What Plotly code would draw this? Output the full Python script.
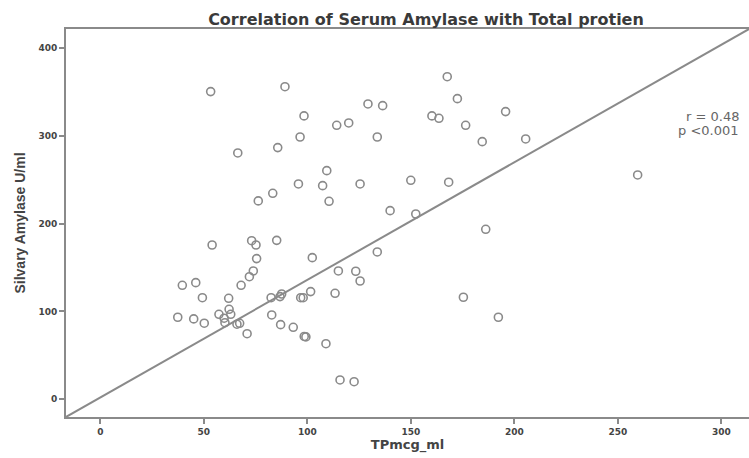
import plotly.graph_objects as go

# ---- data ----
tp_mcg_ml = [
    53.3, 89.2, 66.4, 85.7, 83.3, 76.3, 54.0, 73.1, 75.2, 85.2,
    75.5, 167.6, 172.5, 129.3, 136.4, 98.4, 160.2, 163.6, 195.8, 114.2,
    120.0, 176.5, 96.5, 133.8, 184.5, 205.5, 109.4, 95.7, 107.4, 125.5,
    150.0, 168.3, 110.5, 140.0, 152.4, 186.2, 102.4, 133.8, 73.9, 72.0,
    68.0, 46.1, 39.6, 49.3, 62.0, 62.2, 57.3, 63.0, 59.8, 60.2,
    66.0, 67.3, 37.4, 45.1, 50.2, 70.9, 82.5, 86.8, 87.6, 82.8,
    87.1, 93.2, 115.0, 123.4, 125.5, 96.8, 98.0, 101.6, 113.4, 175.4,
    192.3, 98.5, 99.3, 109.0, 115.8, 122.6, 259.6,
]
salivary_amylase = [
    350.4, 356.0, 280.5, 286.6, 234.6, 225.9, 175.7, 180.6, 175.7, 181.0,
    160.2, 367.4, 342.4, 336.3, 334.4, 322.7, 322.7, 320.0, 327.6, 312.0,
    314.7, 312.0, 298.7, 298.7, 293.4, 296.5, 260.4, 245.2, 243.3, 245.2,
    249.4, 247.2, 225.5, 214.8, 211.0, 193.6, 161.3, 167.8, 146.1, 139.6,
    129.8, 132.8, 129.8, 115.7, 115.0, 102.5, 96.8, 96.8, 92.3, 87.2,
    85.5, 86.5, 93.4, 91.5, 86.6, 74.7, 115.7, 116.9, 119.9, 96.0,
    85.0, 82.0, 146.1, 145.8, 134.7, 115.7, 115.7, 122.6, 120.7, 116.2,
    93.4, 71.5, 71.0, 63.3, 22.0, 20.0, 255.5,
]

x_range = [-16.6, 313.4]
y_range = [-20.2, 421.7]
x_ticks = [0, 50, 100, 150, 200, 250, 300]
y_ticks = [0, 100, 200, 300, 400]

# reference (diagonal) line spanning the plot area
ref_line_x = [x_range[0], x_range[1]]
ref_line_y = [y_range[0], y_range[1]]

stats_r = "r = 0.48"
stats_p = "p <0.001"

FONT = "Liberation Sans, Arial, sans-serif"
WIDE = "DejaVu Sans, Liberation Sans, sans-serif"
GRAY = "#8a8a8a"

fig = go.Figure()
fig.add_trace(go.Scatter(
    x=ref_line_x, y=ref_line_y, mode="lines",
    line=dict(color=GRAY, width=2), hoverinfo="skip", showlegend=False,
))
fig.add_trace(go.Scatter(
    x=tp_mcg_ml, y=salivary_amylase, mode="markers",
    marker=dict(symbol="circle-open", size=8, color=GRAY, line=dict(color=GRAY, width=1.6)),
    showlegend=False,
))

fig.update_layout(
    width=749, height=458,
    margin=dict(l=66, r=0, t=29, b=41, autoexpand=False),
    paper_bgcolor="white", plot_bgcolor="white",
    font=dict(family=FONT, color="#333333"),
    title=dict(
        text="Correlation of Serum Amylase with Total protien",
        font=dict(family=WIDE, size=16, color="#3a3a3a", weight="bold"),
        x=426 / 749, xref="container", xanchor="center",
        y=1 - 19 / 458, yref="container", yanchor="middle",
    ),
    xaxis=dict(
        range=x_range, tickvals=x_ticks, ticktext=[str(v) for v in x_ticks],
        showgrid=False, zeroline=False,
        showline=True, linecolor=GRAY, linewidth=2, mirror=True,
        ticks="outside", ticklen=5, tickwidth=1.5, tickcolor=GRAY,
        tickfont=dict(family=WIDE, size=9, color="#444444", weight="bold"),
        title=dict(text="TPmcg_ml", standoff=3,
                   font=dict(family=WIDE, size=13, color="#444444", weight="bold")),
    ),
    yaxis=dict(
        range=y_range, tickvals=y_ticks, ticktext=[str(v) for v in y_ticks],
        showgrid=False, zeroline=False,
        showline=True, linecolor=GRAY, linewidth=2,
        ticks="outside", ticklen=5, tickwidth=1.5, tickcolor=GRAY,
        tickfont=dict(family=WIDE, size=9, color="#444444", weight="bold"),
        title=dict(text="Silvary Amylase U/ml", standoff=10,
                   font=dict(family=FONT, size=14, color="#444444", weight="bold")),
    ),
)

fig.add_annotation(
    text=stats_r, xref="paper", yref="paper",
    x=(741 - 66) / 683, y=(417 - 117) / 388, xanchor="right", yanchor="middle",
    showarrow=False, font=dict(family=WIDE, size=13, color="#666666"),
)
fig.add_annotation(
    text=stats_p, xref="paper", yref="paper",
    x=(741 - 66) / 683, y=(417 - 130) / 388, xanchor="right", yanchor="middle",
    showarrow=False, font=dict(family=WIDE, size=13, color="#666666"),
)

fig.write_html(
    "out.html",
    config={"displayModeBar": False},
    post_script="document.body.style.margin='0';document.body.style.overflow='hidden';",
)
